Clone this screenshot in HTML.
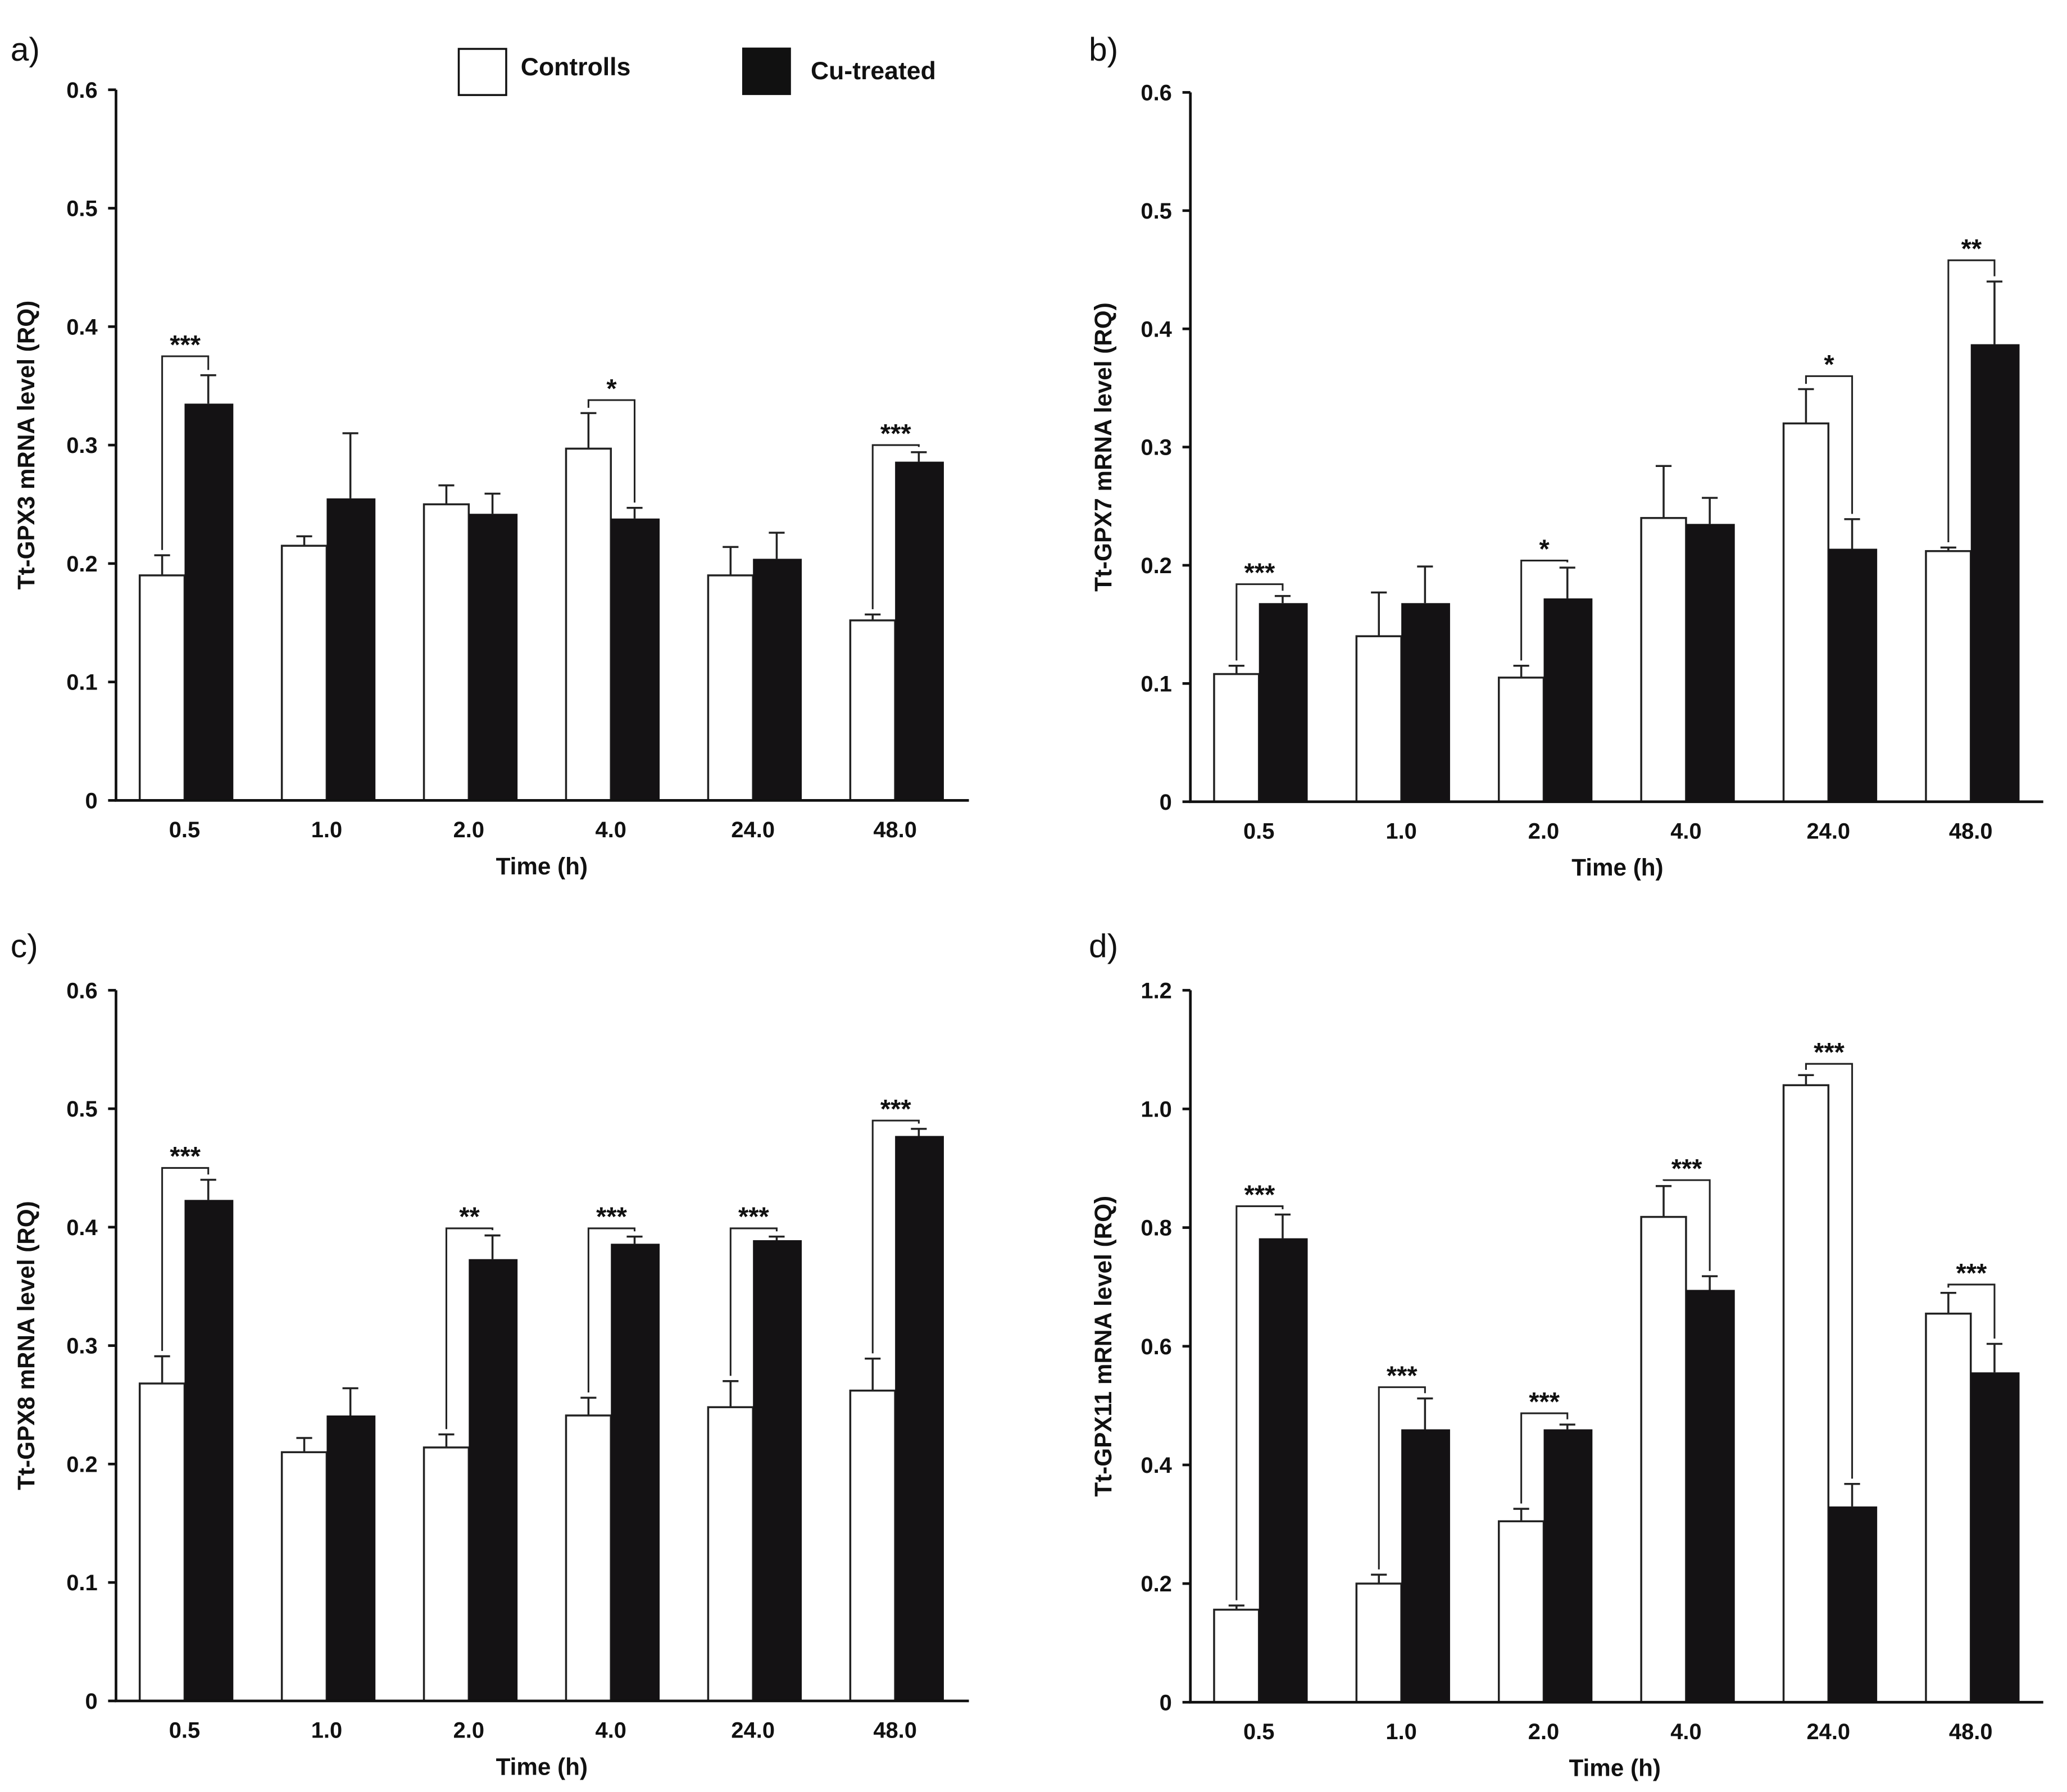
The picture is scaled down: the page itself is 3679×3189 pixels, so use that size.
<!DOCTYPE html>
<html><head><meta charset="utf-8"><style>
html,body{margin:0;padding:0;background:#fff;}
svg{display:block;}
text{font-family:"Liberation Sans",Arial,sans-serif;fill:#111;}
</style></head><body>
<svg id="fig" width="3679" height="3189" viewBox="0 0 1568 1359" xmlns="http://www.w3.org/2000/svg">
<rect width="1568" height="1359" fill="#fff"/>
<g>
<rect x="348" y="37" width="36" height="35" fill="#fff" stroke="#111" stroke-width="1.5"/>
<text x="395" y="57" font-size="19" font-weight="bold">Controlls</text>
<rect x="563" y="36" width="37" height="36" fill="#111"/>
<text x="615" y="60" font-size="19" font-weight="bold">Cu-treated</text>
</g>
</svg>
<script>
const categories = ["0.5","1.0","2.0","4.0","24.0","48.0"];
const aCtrl = [0.19,0.215,0.25,0.297,0.19,0.152];
const aCtrlErr = [0.207,0.223,0.266,0.327,0.214,0.157];
const aCu = [0.335,0.255,0.242,0.238,0.204,0.286];
const aCuErr = [0.359,0.31,0.259,0.247,0.226,0.294];
const aSig = [[0,"***",0.375],[3,"*",0.338],[5,"***",0.30]];
const bCtrl = [0.108,0.14,0.105,0.24,0.32,0.212];
const bCtrlErr = [0.115,0.177,0.115,0.284,0.349,0.215];
const bCu = [0.168,0.168,0.172,0.235,0.214,0.387];
const bCuErr = [0.174,0.199,0.198,0.257,0.239,0.44];
const bSig = [[0,"***",0.184],[2,"*",0.204],[4,"*",0.36],[5,"**",0.458]];
const cCtrl = [0.268,0.21,0.214,0.241,0.248,0.262];
const cCtrlErr = [0.291,0.222,0.225,0.256,0.27,0.289];
const cCu = [0.423,0.241,0.373,0.386,0.389,0.477];
const cCuErr = [0.44,0.264,0.393,0.392,0.392,0.483];
const cSig = [[0,"***",0.45],[2,"**",0.399],[3,"***",0.399],[4,"***",0.399],[5,"***",0.49]];
const dCtrl = [0.156,0.2,0.305,0.818,1.04,0.655];
const dCtrlErr = [0.163,0.215,0.326,0.87,1.057,0.69];
const dCu = [0.782,0.46,0.46,0.695,0.33,0.556];
const dCuErr = [0.822,0.512,0.468,0.718,0.368,0.604];
const dSig = [[0,"***",0.836],[1,"***",0.531],[2,"***",0.487],[3,"***",0.88],[4,"***",1.076],[5,"***",0.704]];
const ticksSmall = ["0","0.1","0.2","0.3","0.4","0.5","0.6"];
const ticksBig = ["0","0.2","0.4","0.6","0.8","1.0","1.2"];

const NS="http://www.w3.org/2000/svg";
const svg=document.getElementById('fig');
function mk(tag,attrs,parent,txt){const e=document.createElementNS(NS,tag);for(const k in attrs)e.setAttribute(k,attrs[k]);if(txt!==undefined)e.textContent=txt;parent.appendChild(e);return e;}

function panel(o){
  const g=mk('g',{},svg);
  
  
  const ymax=parseFloat(o.ticks[o.ticks.length-1]);
  const y=v=>o.y0-(v/ymax)*(o.y0-o.yTop);
  const x=i=>o.c0+i*o.step;
  const lbl=mk('text',{x:o.lx,y:o.ly,'font-size':25},g,o.id+')');
  
  
  categories.forEach((c,i)=>{
    const cx=x(i);
    const b1=mk('rect',{x:cx-34,y:y(o.ctrl[i]),width:34,height:o.y0-y(o.ctrl[i]),fill:'#fff',stroke:'#222','stroke-width':1.5},g);
    
    
    const b2=mk('rect',{x:cx,y:y(o.cu[i]),width:37,height:o.y0-y(o.cu[i]),fill:'#141214'},g);
    
    
    [[cx-17,o.ctrl[i],o.ctrlErr[i]],[cx+18,o.cu[i],o.cuErr[i]]].forEach(([ex,v,t])=>{
      const eb=mk('path',{d:`M${ex} ${y(v)}V${y(t)}M${ex-6} ${y(t)}H${ex+6}`,stroke:'#222','stroke-width':1.5,fill:'none'},g);
      
      
    });
  });
  o.sig.forEach(([i,s,v])=>{
    const cx=x(i),l=cx-17,r=cx+18,yy=y(v);
    const br=mk('path',{d:`M${l} ${y(o.ctrlErr[i])-4}V${yy}H${r}V${y(o.cuErr[i])-4}`,stroke:'#222','stroke-width':1.3,fill:'none'},g);
    
    
    const st=mk('text',{x:(l+r)/2,y:yy-2,'font-size':20,'font-weight':'bold','text-anchor':'middle'},g,s);
    
    
  });
  const ax=mk('path',{d:`M${o.ax} ${o.yTop}V${o.y0}H${o.xEnd}`,stroke:'#111','stroke-width':2,fill:'none'},g);
  
  
  o.ticks.forEach(t=>{
    const yy=y(parseFloat(t));
    mk('path',{d:`M${o.ax-6} ${yy}H${o.ax}`,stroke:'#111','stroke-width':2},g);
    const tl=mk('text',{x:o.ax-14,y:yy+6,'font-size':17,'font-weight':'bold','text-anchor':'end'},g,t);
    
    
  });
  categories.forEach((c,i)=>{
    const tl=mk('text',{x:x(i),y:o.y0+28,'font-size':17,'font-weight':'bold','text-anchor':'middle'},g,c);
    
    
  });
  const xt=mk('text',{x:o.xtX,y:o.y0+56,'font-size':18,'font-weight':'bold','text-anchor':'middle'},g,'Time (h)');
  
  
  const ym=(o.y0+o.yTop)/2;
  const yt=mk('text',{x:o.ytX,y:ym,'font-size':18,'font-weight':'bold','text-anchor':'middle',transform:`rotate(-90 ${o.ytX} ${ym})`},g,o.ytitle);
  
  
}
panel({id:'a',lx:8,ly:46,ax:88,y0:607,yTop:68,xEnd:735,c0:140,step:107.8,ticks:ticksSmall,ctrl:aCtrl,ctrlErr:aCtrlErr,cu:aCu,cuErr:aCuErr,sig:aSig,xtX:411,ytX:26,ytitle:'Tt-GPX3 mRNA level (RQ)'});
panel({id:'b',lx:826,ly:46,ax:903,y0:608,yTop:70,xEnd:1550,c0:955,step:108,ticks:ticksSmall,ctrl:bCtrl,ctrlErr:bCtrlErr,cu:bCu,cuErr:bCuErr,sig:bSig,xtX:1227,ytX:843,ytitle:'Tt-GPX7 mRNA level (RQ)'});
panel({id:'c',lx:8,ly:726,ax:88,y0:1290,yTop:751,xEnd:735,c0:140,step:107.8,ticks:ticksSmall,ctrl:cCtrl,ctrlErr:cCtrlErr,cu:cCu,cuErr:cCuErr,sig:cSig,xtX:411,ytX:26,ytitle:'Tt-GPX8 mRNA level (RQ)'});
panel({id:'d',lx:826,ly:726,ax:903,y0:1291,yTop:751,xEnd:1550,c0:955,step:108,ticks:ticksBig,ctrl:dCtrl,ctrlErr:dCtrlErr,cu:dCu,cuErr:dCuErr,sig:dSig,xtX:1225,ytX:843,ytitle:'Tt-GPX11 mRNA level (RQ)'});
</script>
</body></html>
